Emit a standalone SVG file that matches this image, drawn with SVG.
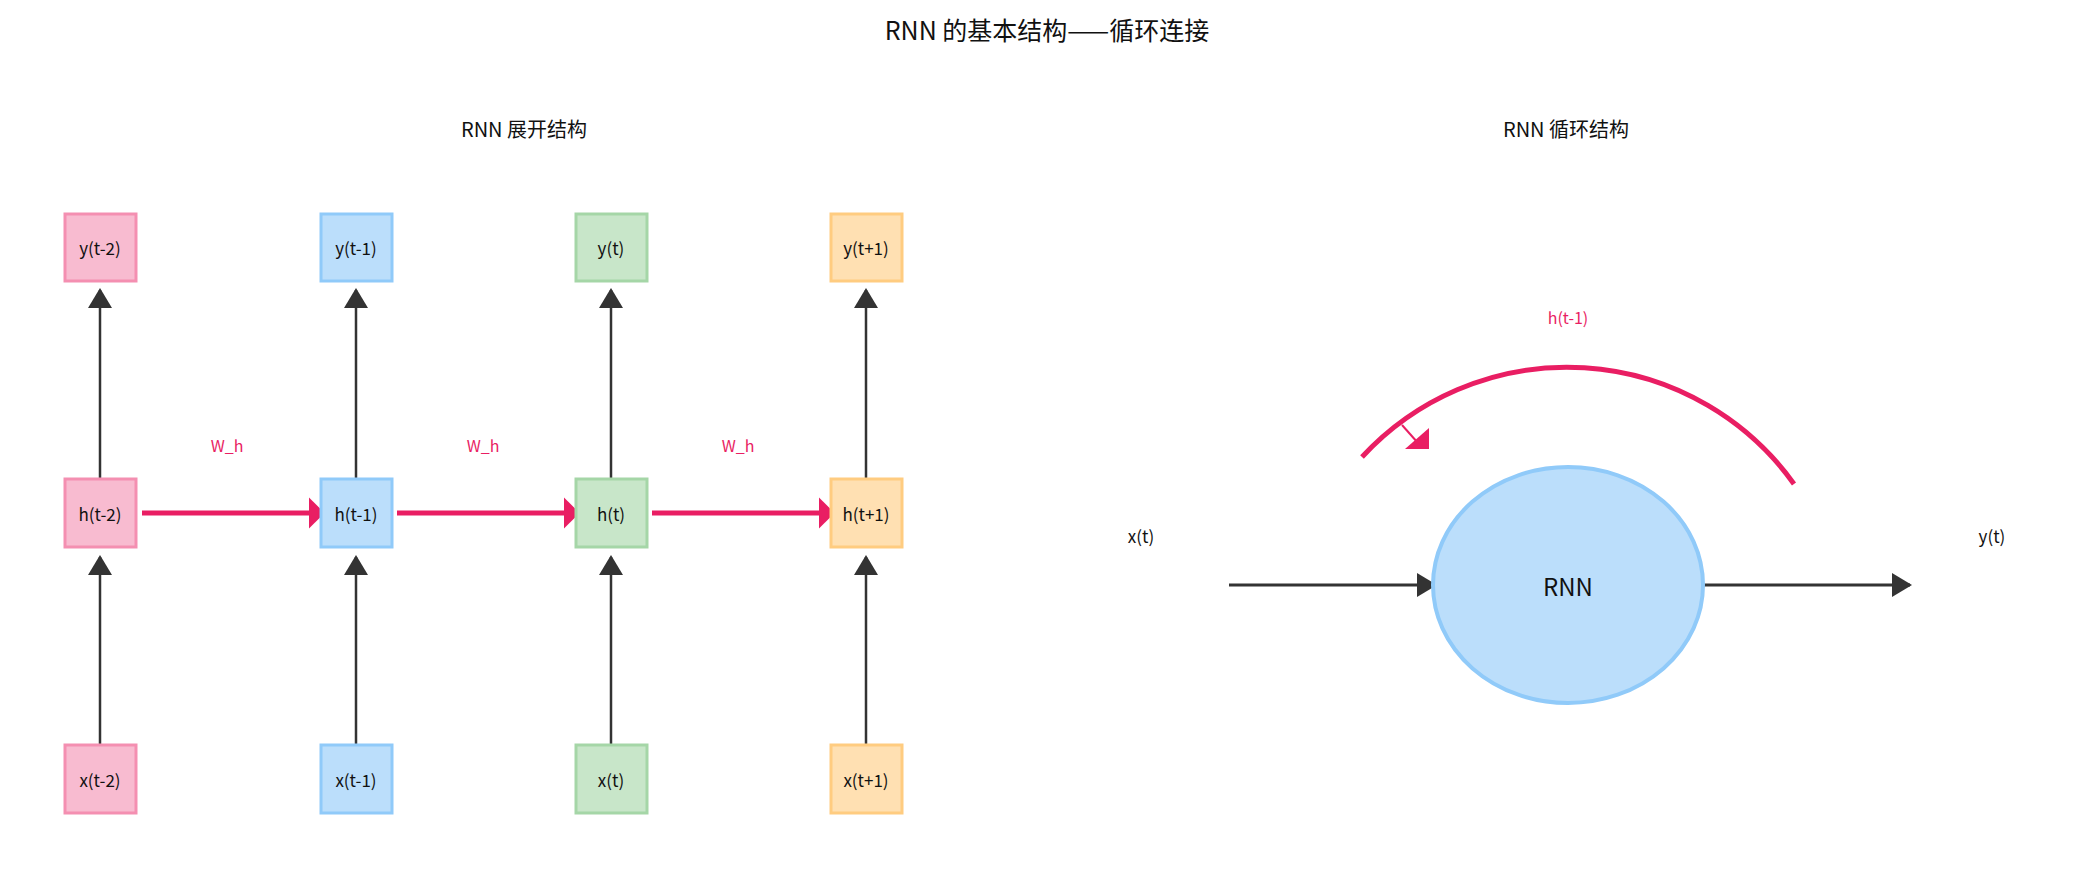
<svg xmlns="http://www.w3.org/2000/svg" width="2085" height="889" viewBox="0 0 2085 889">
<style>
text{font-family:"Noto Sans CJK SC","DejaVu Sans",sans-serif;text-anchor:middle;dominant-baseline:central;fill:#111}
.lb{font-size:17px}
.p rect{fill:#f8bbd0;stroke:#f48fb1}
.b rect{fill:#bbdefb;stroke:#90caf9}
.g rect{fill:#c8e6c9;stroke:#a5d6a7}
.o rect{fill:#ffe0b2;stroke:#ffcc80}
rect{stroke-width:3}
.k{stroke:#333;stroke-width:2.5;fill:none}
.r{stroke:#e91e63;stroke-width:5;fill:none}
.w{fill:#e91e63;font-size:16px}
</style>
<defs>
<marker id="ak2" viewBox="0 0 10 10" refX="9" refY="5" markerWidth="20" markerHeight="24" orient="auto" markerUnits="userSpaceOnUse" preserveAspectRatio="none"><path d="M0,0L10,5L0,10z" fill="#333"/></marker>
<marker id="ar" viewBox="0 0 10 10" refX="9" refY="5" markerWidth="16" markerHeight="32" orient="auto" markerUnits="userSpaceOnUse" preserveAspectRatio="none"><path d="M0,0L10,5L0,10z" fill="#e91e63"/></marker>
</defs>
<rect width="2085" height="889" fill="#fff" stroke="none"/>
<text x="1047" y="29" font-size="25">RNN 的基本结构——循环连接</text>
<text x="524" y="128" font-size="20">RNN 展开结构</text>
<text x="1566" y="128" font-size="20">RNN 循环结构</text>

<g id="connectors">
<g class="k" marker-end="url(#ak2)">
<path d="M100,745V557"/><path d="M356,745V557"/><path d="M611,745V557"/><path d="M866,745V557"/>
<path d="M100,479V290"/><path d="M356,479V290"/><path d="M611,479V290"/><path d="M866,479V290"/>
</g>
<g class="r" marker-end="url(#ar)">
<path d="M142,513H323"/><path d="M397,513H578"/><path d="M652,513H833"/>
</g>
<text class="w" x="227" y="445">W_h</text>
<text class="w" x="483" y="445">W_h</text>
<text class="w" x="738" y="445">W_h</text>
<path class="k" d="M1229,585H1435" marker-end="url(#ak2)" style="stroke-width:3"/>
<path class="k" d="M1704,585H1910" marker-end="url(#ak2)" style="stroke-width:3"/>
<path class="r" d="M1362,457A279,279 0 0 1 1794,484"/>
<path d="M1402,425L1418,443" stroke="#e91e63" stroke-width="2"/>
<polygon points="1429,428 1429,449 1405,449" fill="#e91e63"/>
<text class="w" x="1568" y="317" font-size="17">h(t-1)</text>
</g>

<g id="n_y0" class="p"><rect x="65" y="214" width="71" height="67"/><text class="lb" x="100" y="247">y(t-2)</text></g>
<g id="n_y1" class="b"><rect x="321" y="214" width="71" height="67"/><text class="lb" x="356" y="247">y(t-1)</text></g>
<g id="n_y2" class="g"><rect x="576" y="214" width="71" height="67"/><text class="lb" x="611" y="247">y(t)</text></g>
<g id="n_y3" class="o"><rect x="831" y="214" width="71" height="67"/><text class="lb" x="866" y="247">y(t+1)</text></g>
<g id="n_h0" class="p"><rect x="65" y="479" width="71" height="68"/><text class="lb" x="100" y="513">h(t-2)</text></g>
<g id="n_h1" class="b"><rect x="321" y="479" width="71" height="68"/><text class="lb" x="356" y="513">h(t-1)</text></g>
<g id="n_h2" class="g"><rect x="576" y="479" width="71" height="68"/><text class="lb" x="611" y="513">h(t)</text></g>
<g id="n_h3" class="o"><rect x="831" y="479" width="71" height="68"/><text class="lb" x="866" y="513">h(t+1)</text></g>
<g id="n_x0" class="p"><rect x="65" y="745" width="71" height="68"/><text class="lb" x="100" y="779">x(t-2)</text></g>
<g id="n_x1" class="b"><rect x="321" y="745" width="71" height="68"/><text class="lb" x="356" y="779">x(t-1)</text></g>
<g id="n_x2" class="g"><rect x="576" y="745" width="71" height="68"/><text class="lb" x="611" y="779">x(t)</text></g>
<g id="n_x3" class="o"><rect x="831" y="745" width="71" height="68"/><text class="lb" x="866" y="779">x(t+1)</text></g>

<g id="n_rnn"><ellipse cx="1568" cy="585" rx="135" ry="118" fill="#bbdefb" stroke="#90caf9" stroke-width="4"/><text x="1568" y="585" font-size="24">RNN</text></g>
<g id="n_xt"><text class="lb" x="1141" y="535" font-size="18">x(t)</text></g>
<g id="n_yt"><text class="lb" x="1992" y="535" font-size="18">y(t)</text></g>
</svg>
